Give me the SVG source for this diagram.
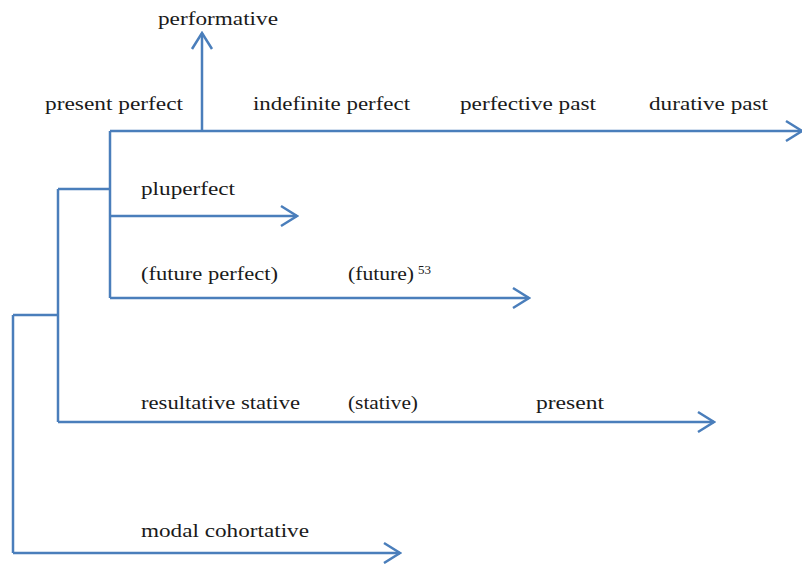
<svg xmlns="http://www.w3.org/2000/svg" width="802" height="564" viewBox="0 0 802 564">
<defs>
<marker id="arr" viewBox="0 0 20 24" refX="18" refY="12" markerWidth="20" markerHeight="24" markerUnits="userSpaceOnUse" orient="auto">
<path d="M2,2 L18,12 L2,22" fill="none" stroke="#4a7ebb" stroke-width="2.5"/>
</marker>
</defs>
<style>
.ln{stroke:#4a7ebb;stroke-width:2.5;fill:none}
.ar{marker-end:url(#arr)}
.t{font-family:'Liberation Serif','Times New Roman',serif;font-size:19px;fill:#1a1a1a}
.sup{font-size:13px}
</style>
<rect width="802" height="564" fill="#ffffff"/>
<g id="connectors">
<path class="ln ar" d="M110,131 H802"/>
<path class="ln ar" d="M202,131 V33"/>
<path class="ln" d="M110,131 V298"/>
<path class="ln ar" d="M110,216 H297"/>
<path class="ln ar" d="M110,298 H529"/>
<path class="ln" d="M58,189 H110"/>
<path class="ln" d="M58,189 V422"/>
<path class="ln ar" d="M58,422 H714"/>
<path class="ln" d="M13,315 H58"/>
<path class="ln" d="M13,315 V553"/>
<path class="ln ar" d="M13,553 H400"/>
</g>
<g font-family="Liberation Serif, serif" font-size="19" fill="#1a1a1a">
<g id="performative"><text class="t" x="158" y="25" textLength="120" lengthAdjust="spacingAndGlyphs">performative</text></g>
<g id="present-perfect"><text class="t" x="45" y="110" textLength="138" lengthAdjust="spacingAndGlyphs">present perfect</text></g>
<g id="indefinite-perfect"><text class="t" x="253" y="110" textLength="157" lengthAdjust="spacingAndGlyphs">indefinite perfect</text></g>
<g id="perfective-past"><text class="t" x="460" y="110" textLength="136" lengthAdjust="spacingAndGlyphs">perfective past</text></g>
<g id="durative-past"><text class="t" x="649" y="110" textLength="119" lengthAdjust="spacingAndGlyphs">durative past</text></g>
<g id="pluperfect"><text class="t" x="141" y="195" textLength="94" lengthAdjust="spacingAndGlyphs">pluperfect</text></g>
<g id="future-perfect"><text class="t" x="141" y="280" textLength="137" lengthAdjust="spacingAndGlyphs">(future perfect)</text></g>
<g id="future"><text class="t" x="348" y="280" textLength="66" lengthAdjust="spacingAndGlyphs">(future)</text><text class="t sup" x="418" y="274">53</text></g>
<g id="resultative-stative"><text class="t" x="141" y="409" textLength="159" lengthAdjust="spacingAndGlyphs">resultative stative</text></g>
<g id="stative"><text class="t" x="348" y="409" textLength="70" lengthAdjust="spacingAndGlyphs">(stative)</text></g>
<g id="present"><text class="t" x="536" y="409" textLength="68" lengthAdjust="spacingAndGlyphs">present</text></g>
<g id="modal-cohortative"><text class="t" x="141" y="537" textLength="168" lengthAdjust="spacingAndGlyphs">modal cohortative</text></g>
</g>
</svg>
